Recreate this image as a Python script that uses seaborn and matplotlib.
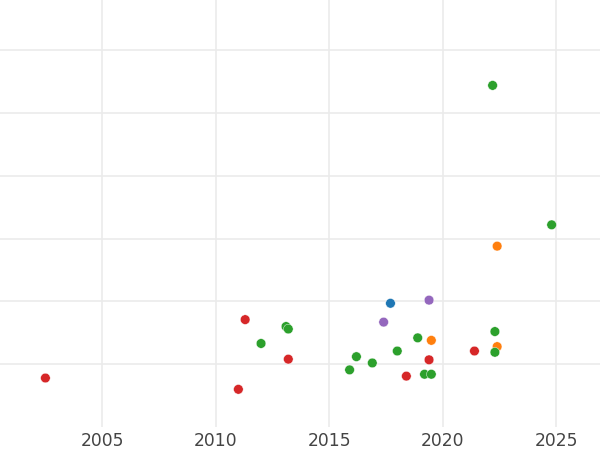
import numpy as np
import pandas as pd
import matplotlib
matplotlib.use("Agg")
import matplotlib.pyplot as plt
import seaborn as sns

# data (year, value in grid units, group)
red_year = [2002.5, 2011.3, 2013.2, 2011.0, 2021.4, 2019.4, 2018.4]
red_val = [0.78, 1.71, 1.08, 0.60, 1.21, 1.07, 0.81]

green_year = [2012.0, 2013.1, 2013.2, 2024.8, 2022.3, 2018.9, 2018.0,
              2022.3, 2016.2, 2016.9, 2015.9, 2019.2, 2019.5, 2022.2]
green_val = [1.33, 1.60, 1.56, 3.22, 1.52, 1.42, 1.21,
             1.19, 1.12, 1.02, 0.91, 0.84, 0.84, 5.44]

orange_year = [2022.4, 2019.5, 2022.4]
orange_val = [2.88, 1.38, 1.28]

blue_year = [2017.7]
blue_val = [1.97]

purple_year = [2019.4, 2017.4]
purple_val = [2.02, 1.67]

groups = ["blue", "orange", "green", "red", "purple"]

# build the long table seaborn wants
df = pd.concat([
    pd.DataFrame({"year": blue_year, "value": blue_val, "group": "blue"}),
    pd.DataFrame({"year": orange_year, "value": orange_val, "group": "orange"}),
    pd.DataFrame({"year": green_year, "value": green_val, "group": "green"}),
    pd.DataFrame({"year": red_year, "value": red_val, "group": "red"}),
    pd.DataFrame({"year": purple_year, "value": purple_val, "group": "purple"}),
], ignore_index=True)

sns.set_theme(style="white")
plt.rcParams["font.family"] = ["DejaVu Sans"]

fig = plt.figure(figsize=(6, 4.5), dpi=100)
ax = fig.add_axes([0, 1 - 427 / 450, 1, 427 / 450])

sns.scatterplot(
    data=df, x="year", y="value", hue="group", hue_order=groups,
    palette=sns.color_palette("tab10", 5), s=48,
    edgecolor="white", linewidth=0.3, legend=False, ax=ax, zorder=3,
)

# format
ax.set_xlim(2000.5, 2026.93)
ax.set_ylim(0, 6.8)
ax.set_xticks([2005, 2010, 2015, 2020, 2025])
ax.set_yticks([1, 2, 3, 4, 5, 6])
ax.set_yticklabels([])
ax.grid(True, color="#ebebeb", linewidth=1.2)
ax.set_axisbelow(True)
ax.tick_params(axis="both", length=0, labelsize=12.3, labelcolor="#444444", pad=3.5)
ax.set_xlabel("")
ax.set_ylabel("")
for s in ax.spines.values():
    s.set_visible(False)

fig.savefig("out.png", dpi=100, facecolor="white")
